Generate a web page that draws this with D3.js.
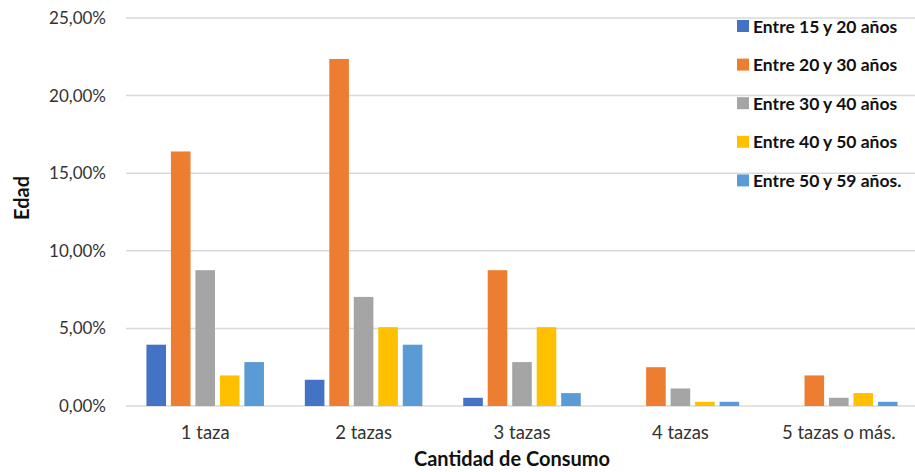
<!DOCTYPE html>
<html>
<head>
<meta charset="utf-8">
<script src="https://cdn.jsdelivr.net/npm/d3@7"></script>
<style>
  body { margin: 0; background: #fff; }
  svg { font-family: Lato, "Open Sans", sans-serif; }
</style>
</head>
<body>
<main></main>
<script>
"use strict";

// data
const categories = ["1 taza", "2 tazas", "3 tazas", "4 tazas", "5 tazas o más."];
const series = ["Entre 15 y 20 años", "Entre 20 y 30 años", "Entre 30 y 40 años", "Entre 40 y 50 años", "Entre 50 y 59 años."];
const age15to20 = [3.95, 1.69, 0.53, 0, 0];
const age20to30 = [16.4, 22.36, 8.75, 2.5, 1.97];
const age30to40 = [8.75, 7.03, 2.83, 1.13, 0.53];
const age40to50 = [1.97, 5.08, 5.08, 0.27, 0.83];
const age50to59 = [2.83, 3.95, 0.83, 0.27, 0.27];
const yTicks = [0, 5, 10, 15, 20, 25];
const colors = ["#4472C4", "#ED7D31", "#A5A5A5", "#FFC000", "#5B9BD5"];

const values = [age15to20, age20to30, age30to40, age40to50, age50to59];

const w = 915;
const h = 472;
const margin = { top: 18, bottom: 66, left: 126, right: -3 };

const svg = d3.select("main").append("svg").attr("width", w).attr("height", h);

const x0 = d3.scaleBand().domain(categories).range([margin.left, w - margin.right]).paddingInner(0.258).paddingOuter(0.129);
const x1 = d3.scaleBand().domain(series).range([0, x0.bandwidth()]).paddingInner(0.2);
const y = d3.scaleLinear().domain([0, 25]).range([h - margin.bottom, margin.top]);

//gridlines
svg.append("g")
  .selectAll("line")
  .data(yTicks)
  .enter()
  .append("line")
  .attr("x1", margin.left)
  .attr("x2", w)
  .attr("y1", (d) => y(d))
  .attr("y2", (d) => y(d))
  .attr("stroke", "#d9d9d9")
  .attr("stroke-width", 1.5);

//y axis labels
const yAxis = d3.axisLeft(y).tickValues(yTicks).tickSize(0).tickPadding(20)
  .tickFormat((d) => d.toFixed(2).replace(".", ",") + "%");
svg.append("g")
  .attr("transform", `translate(${margin.left}, 0)`)
  .call(yAxis)
  .call((g) => g.select(".domain").remove())
  .call((g) => g.selectAll("text").attr("font-size", 17).attr("fill", "#333").attr("font-family", "Lato"));

//bars
const groups = svg.append("g")
  .selectAll("g")
  .data(categories)
  .enter()
  .append("g")
  .attr("transform", (d) => `translate(${x0(d)}, 0)`);

groups.selectAll("rect")
  .data((d, i) => series.map((s, j) => ({ s: s, v: values[j][i], c: colors[j] })))
  .enter()
  .append("rect")
  .attr("x", (d) => x1(d.s))
  .attr("width", x1.bandwidth())
  .attr("y", (d) => y(d.v))
  .attr("height", (d) => y(0) - y(d.v))
  .attr("fill", (d) => d.c);

//x axis labels
const xAxis = d3.axisBottom(x0).tickSize(0).tickPadding(20);
svg.append("g")
  .attr("transform", `translate(0, ${y(0)})`)
  .call(xAxis)
  .call((g) => g.select(".domain").remove())
  .call((g) => g.selectAll("text").attr("font-size", 18.5).attr("fill", "#333").attr("font-family", "Lato"));

//axis titles
svg.append("text")
  .attr("x", 512)
  .attr("y", 466)
  .attr("text-anchor", "middle")
  .attr("font-size", 20)
  .attr("font-weight", "bold")
  .attr("fill", "#111")
  .text("Cantidad de Consumo");

svg.append("text")
  .attr("transform", "translate(29, 198) rotate(-90)")
  .attr("text-anchor", "middle")
  .attr("font-size", 20)
  .attr("font-weight", "bold")
  .attr("fill", "#111")
  .text("Edad");

//legend
const legend = svg.append("g").attr("transform", "translate(737, 26)");
const items = legend.selectAll("g")
  .data(series)
  .enter()
  .append("g")
  .attr("transform", (d, i) => `translate(0, ${i * 38.6})`);

items.append("rect")
  .attr("x", 0)
  .attr("y", -6)
  .attr("width", 12)
  .attr("height", 12)
  .attr("fill", (d, i) => colors[i]);

items.append("text")
  .attr("x", 16)
  .attr("y", 6.5)
  .attr("font-size", 17.5)
  .attr("font-weight", "bold")
  .attr("fill", "#111")
  .text((d) => d);
</script>
</body>
</html>
